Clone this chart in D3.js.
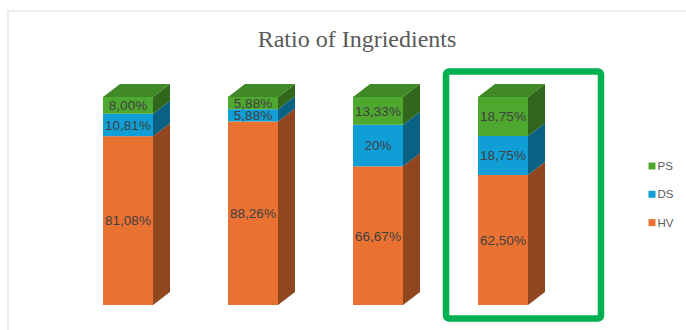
<!DOCTYPE html>
<html>
<head>
<meta charset="utf-8">
<script src="https://cdn.jsdelivr.net/npm/d3@7/dist/d3.min.js"></script>
<style>
  html, body { margin: 0; padding: 0; background: #ffffff; }
  svg { display: block; }
</style>
</head>
<body>
<svg id="chart" width="686" height="330"></svg>
<script>
// ---- data ----
const title = "Ratio of Ingriedients";
const categories = ["1", "2", "3", "4"];
const seriesNames = ["HV", "DS", "PS"];
const hvValues = [81.08, 88.26, 66.67, 62.50];
const dsValues = [10.81, 5.88, 20, 18.75];
const psValues = [8.00, 5.88, 13.33, 18.75];
const hvLabels = ["81,08%", "88,26%", "66,67%", "62,50%"];
const dsLabels = ["10,81%", "5,88%", "20%", "18,75%"];
const psLabels = ["8,00%", "5,88%", "13,33%", "18,75%"];
const highlighted = "4";
const legendOrder = ["PS", "DS", "HV"];

const seriesColors = { HV: "#E97132", DS: "#0F9ED5", PS: "#4EA72E" };
const seriesValues = { HV: hvValues, DS: dsValues, PS: psValues };
const seriesLabels = { HV: hvLabels, DS: dsLabels, PS: psLabels };

const svg = d3.select("#chart");

// chart area border (light)
svg.append("path")
  .attr("d", "M8,330 L8,11 L686,11")
  .attr("fill", "none")
  .attr("stroke", "#ececec")
  .attr("stroke-width", 2);

// title
svg.append("text")
  .attr("x", 357).attr("y", 47)
  .attr("text-anchor", "middle")
  .attr("font-family", "'Liberation Serif', 'Times New Roman', serif")
  .attr("font-size", 24)
  .attr("fill", "#595959")
  .text(title);

// scales
const x = d3.scaleBand().domain(categories).range([40.5, 590.5])
  .paddingInner(0.6).paddingOuter(0.5);
const y = d3.scaleLinear().domain([0, 100]).range([305, 97]);
const dx = 17, dy = 13;

// build stacked, normalized (100%) data
const table = categories.map((c, i) => {
  const row = { cat: c };
  let total = 0;
  seriesNames.forEach(s => { row[s] = seriesValues[s][i]; total += seriesValues[s][i]; });
  seriesNames.forEach(s => { row[s] = row[s] / total * 100; });
  return row;
});
const stack = d3.stack().keys(seriesNames)(table);

const g = svg.append("g");
categories.forEach((c, i) => {
  const x0 = x(c), x1 = x(c) + x.bandwidth();
  const bar = g.append("g");
  stack.forEach((layer, li) => {
    const s = layer.key;
    const d = layer[i];
    const yb = y(d[0]), yt = y(d[1]);
    const col = d3.color(seriesColors[s]);
    // front face
    bar.append("rect")
      .attr("x", x0).attr("y", yt)
      .attr("width", x1 - x0).attr("height", yb - yt)
      .attr("fill", col.formatHex());
    // side face
    bar.append("path")
      .attr("d", `M${x1},${yt} L${x1 + dx},${yt - dy} L${x1 + dx},${yb - dy} L${x1},${yb} Z`)
      .attr("fill", col.darker(1.35).formatHex());
    // top face only for top segment
    if (li === stack.length - 1) {
      bar.append("path")
        .attr("d", `M${x0},${yt} L${x0 + dx},${yt - dy} L${x1 + dx},${yt - dy} L${x1},${yt} Z`)
        .attr("fill", col.darker(0.55).formatHex());
    }
  });
  // labels
  stack.forEach(layer => {
    const s = layer.key;
    const d = layer[i];
    bar.append("text")
      .attr("x", (x0 + x1) / 2)
      .attr("y", (y(d[0]) + y(d[1])) / 2)
      .attr("dy", "0.36em")
      .attr("text-anchor", "middle")
      .attr("font-family", "'Liberation Sans', Arial, sans-serif")
      .attr("font-size", 13.5)
      .attr("fill", "#404040")
      .text(seriesLabels[s][i]);
  });
});

// highlight box around selected bar
const hx = x(highlighted);
svg.append("rect")
  .attr("x", hx - 32).attr("y", y(100) - 25.5)
  .attr("width", 155).attr("height", 247)
  .attr("rx", 3)
  .attr("fill", "none")
  .attr("stroke", "#00B050")
  .attr("stroke-width", 6.5);

// legend
const legend = svg.append("g");
legendOrder.forEach((s, i) => {
  const ly = 166 + i * 28.3;
  legend.append("rect")
    .attr("x", 648.5).attr("y", ly - 3.5)
    .attr("width", 7).attr("height", 7)
    .attr("fill", seriesColors[s]);
  legend.append("text")
    .attr("x", 657.5).attr("y", ly)
    .attr("dy", "0.35em")
    .attr("font-family", "'Liberation Sans', Arial, sans-serif")
    .attr("font-size", 11.5)
    .attr("fill", "#595959")
    .text(s);
});
</script>
</body>
</html>
